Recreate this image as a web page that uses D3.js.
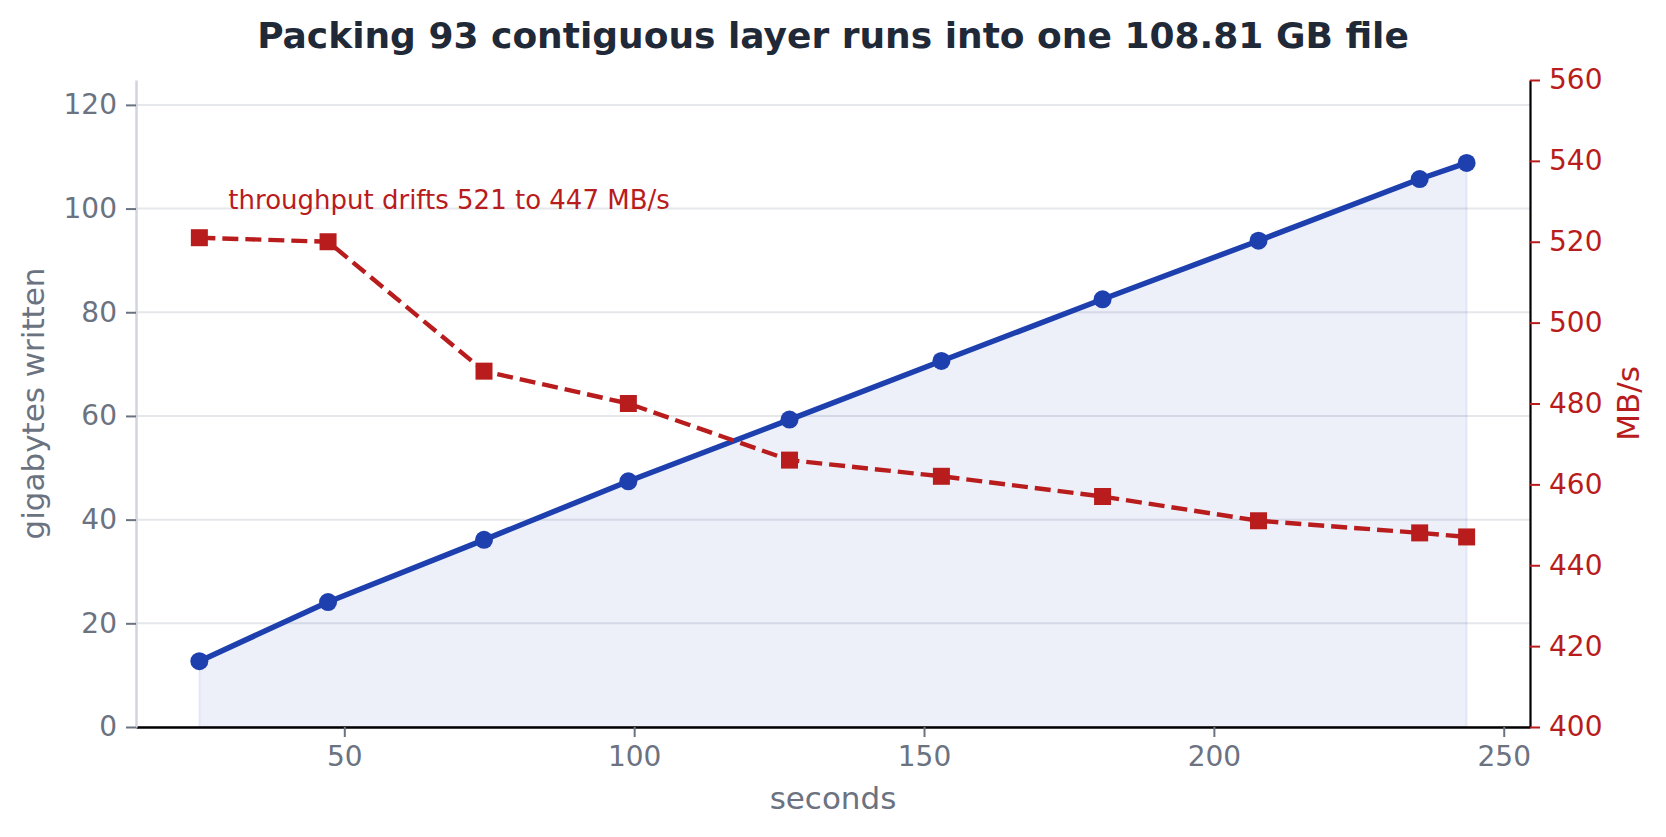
<!DOCTYPE html>
<html>
<head>
<meta charset="utf-8">
<script src="https://cdn.jsdelivr.net/npm/d3@7"></script>
<style>
  body { margin: 0; background: #fff; }
  svg { display: block; font-family: "DejaVu Sans", sans-serif; }
</style>
</head>
<body>
<div id="chart"></div>
<script>
// Data
const seconds = [25.0, 47.2, 74.1, 99.0, 126.8, 153.0, 180.8, 207.7, 235.5, 243.6];
const gigabytes = [12.7, 24.1, 36.1, 47.4, 59.3, 70.6, 82.5, 93.8, 105.7, 108.81];
const throughput = [521, 520, 488, 480, 466, 462, 457, 451, 448, 447];

const xTicks = [50, 100, 150, 200, 250];
const gbTicks = [0, 20, 40, 60, 80, 100, 120];
const mbTicks = [400, 420, 440, 460, 480, 500, 520, 540, 560];

const titleText = 'Packing 93 contiguous layer runs into one 108.81 GB file';
const noteText = 'throughput drifts 521 to 447 MB/s';

const width = 1666;
const height = 837;
const margin = { top: 80, right: 136, bottom: 110, left: 136 };

const blue = '#1e40af';
const red = '#b91c1c';
const gray = '#6b7280';

const svg = d3.select('#chart')
    .append('svg')
    .attr('width', width)
    .attr('height', height);

// Scales
const ext = d3.extent(seconds);
const pad = (ext[1] - ext[0]) * 0.05;
const x = d3.scaleLinear()
    .domain([ext[0] - pad, ext[1] + pad])
    .range([margin.left, width - margin.right]);

const yGb = d3.scaleLinear()
    .domain([0, 124.8])
    .range([height - margin.bottom, margin.top]);

const yMb = d3.scaleLinear()
    .domain([400, 560])
    .range([height - margin.bottom, margin.top]);

const x0 = margin.left, x1 = width - margin.right;
const y0 = height - margin.bottom, y1 = margin.top;

// Horizontal grid on the left-axis ticks
svg.append('g')
    .selectAll('line')
    .data(gbTicks)
    .join('line')
    .attr('x1', x0)
    .attr('x2', x1)
    .attr('y1', d => yGb(d))
    .attr('y2', d => yGb(d))
    .attr('stroke', '#e5e7eb')
    .attr('stroke-width', 2);

const pts = seconds.map((s, i) => ({ s, gb: gigabytes[i], mb: throughput[i] }));

// Area under the cumulative line
const area = d3.area()
    .x(d => x(d.s))
    .y0(yGb(0))
    .y1(d => yGb(d.gb));

svg.append('path')
    .datum(pts)
    .attr('d', area)
    .attr('fill', blue)
    .attr('fill-opacity', 0.08)
    .attr('stroke', blue)
    .attr('stroke-opacity', 0.08)
    .attr('stroke-width', 2);

// Cumulative gigabytes line
svg.append('path')
    .datum(pts)
    .attr('d', d3.line().x(d => x(d.s)).y(d => yGb(d.gb)))
    .attr('fill', 'none')
    .attr('stroke', blue)
    .attr('stroke-width', 5.5)
    .attr('stroke-linejoin', 'round');

svg.append('g')
    .selectAll('circle')
    .data(pts)
    .join('circle')
    .attr('cx', d => x(d.s))
    .attr('cy', d => yGb(d.gb))
    .attr('r', 9)
    .attr('fill', blue);

// Annotation
svg.append('text')
    .attr('x', x(30))
    .attr('y', yGb(100))
    .attr('fill', red)
    .attr('font-size', 26)
    .text(noteText);

// Throughput line (dashed) with square markers
svg.append('path')
    .datum(pts)
    .attr('d', d3.line().x(d => x(d.s)).y(d => yMb(d.mb)))
    .attr('fill', 'none')
    .attr('stroke', red)
    .attr('stroke-width', 4.4)
    .attr('stroke-dasharray', '16,7');

const sq = 17;
svg.append('g')
    .selectAll('rect')
    .data(pts)
    .join('rect')
    .attr('x', d => x(d.s) - sq / 2)
    .attr('y', d => yMb(d.mb) - sq / 2)
    .attr('width', sq)
    .attr('height', sq)
    .attr('fill', red);

// Axes
const tickFont = 28;

const xAxis = svg.append('g')
    .attr('transform', `translate(0,${y0})`)
    .call(d3.axisBottom(x).tickValues(xTicks).tickSize(10).tickPadding(9).tickSizeOuter(0));
xAxis.select('.domain').attr('stroke', '#000').attr('stroke-width', 2.5);
xAxis.selectAll('.tick line').attr('stroke', gray).attr('stroke-width', 2);
xAxis.selectAll('.tick text').attr('fill', gray).attr('font-size', tickFont).attr('font-family', 'DejaVu Sans');

const leftAxis = svg.append('g')
    .attr('transform', `translate(${x0},0)`)
    .call(d3.axisLeft(yGb).tickValues(gbTicks).tickSize(10).tickPadding(9).tickSizeOuter(0));
leftAxis.select('.domain').attr('stroke', '#d1d5db').attr('stroke-width', 2.5);
leftAxis.selectAll('.tick line').attr('stroke', gray).attr('stroke-width', 2);
leftAxis.selectAll('.tick text').attr('fill', gray).attr('font-size', tickFont).attr('font-family', 'DejaVu Sans');

const rightAxis = svg.append('g')
    .attr('transform', `translate(${x1},0)`)
    .call(d3.axisRight(yMb).tickValues(mbTicks).tickSize(10).tickPadding(9).tickSizeOuter(0));
rightAxis.select('.domain').attr('stroke', '#000').attr('stroke-width', 2.2);
rightAxis.selectAll('.tick line').attr('stroke', red).attr('stroke-width', 2);
rightAxis.selectAll('.tick text').attr('fill', red).attr('font-size', tickFont).attr('font-family', 'DejaVu Sans');

// Axis titles
svg.append('text')
    .attr('x', (x0 + x1) / 2)
    .attr('y', 809)
    .attr('text-anchor', 'middle')
    .attr('fill', gray)
    .attr('font-size', 31)
    .text('seconds');

svg.append('text')
    .attr('transform', `translate(44,${(y0 + y1) / 2}) rotate(-90)`)
    .attr('text-anchor', 'middle')
    .attr('fill', gray)
    .attr('font-size', 31)
    .text('gigabytes written');

svg.append('text')
    .attr('transform', `translate(1639,${(y0 + y1) / 2}) rotate(-90)`)
    .attr('text-anchor', 'middle')
    .attr('fill', red)
    .attr('font-size', 31)
    .text('MB/s');

// Chart title
svg.append('text')
    .attr('x', width / 2)
    .attr('y', 48)
    .attr('text-anchor', 'middle')
    .attr('fill', '#1f2937')
    .attr('font-size', 36)
    .attr('font-weight', 'bold')
    .text(titleText);
</script>
</body>
</html>
